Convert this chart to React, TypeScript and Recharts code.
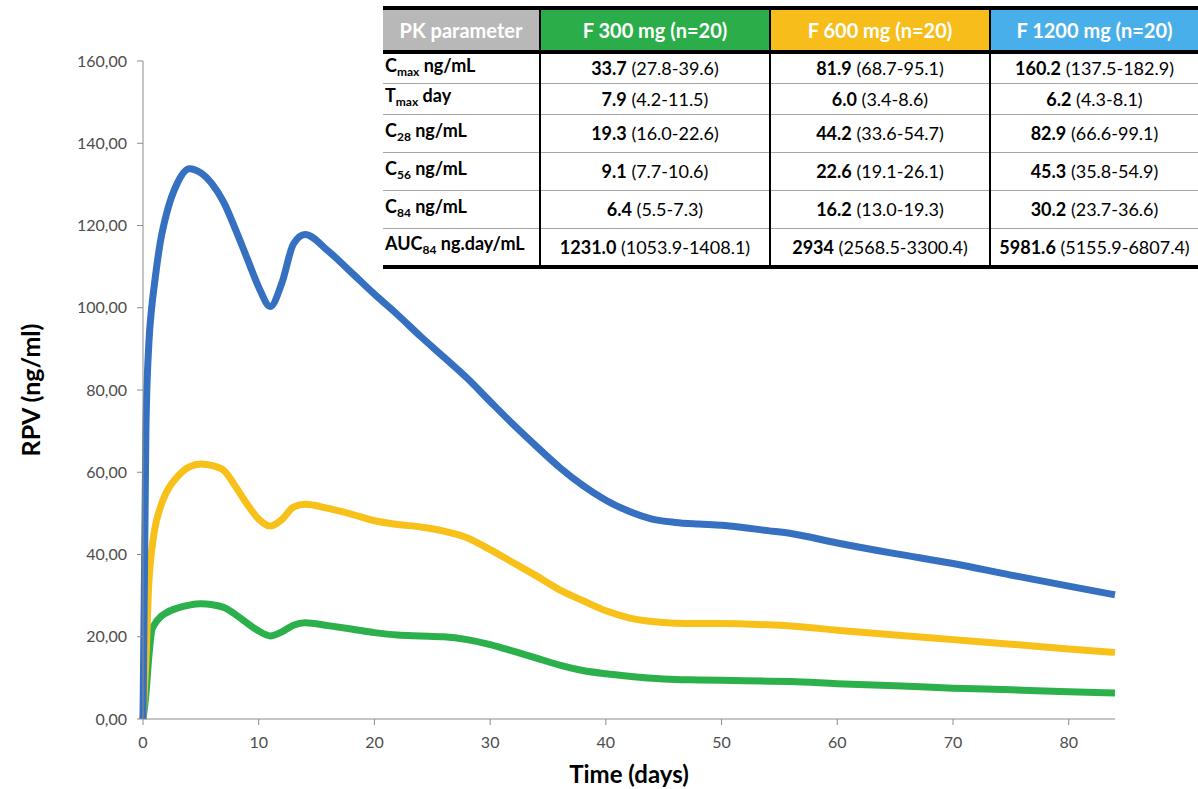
import { LineChart, Line, XAxis, YAxis } from 'recharts'

const days = [0, 0.25, 0.5, 0.75, 1, 1.5, 2, 3, 4, 5, 6, 7, 8, 9, 10, 11, 12, 13, 14, 16, 18, 20, 22, 24, 26, 28, 30, 32, 34, 36, 38, 40, 42, 44, 46, 48, 50, 52, 54, 56, 60, 65, 70, 75, 80, 84]
const f1200 = [0, 70, 91, 100, 106, 116, 122.5, 130.5, 133.8, 132.8, 130, 125.5, 119, 112, 105, 100.3, 106, 115.5, 117.8, 113.8, 108.6, 103.3, 98.3, 93, 88, 82.9, 77.2, 71.6, 66.3, 61.2, 56.8, 53.2, 50.5, 48.6, 47.8, 47.4, 47.1, 46.5, 45.8, 45.1, 42.8, 40.2, 37.8, 35, 32.3, 30.2]
const f600 = [0, 14, 33, 41, 46, 51.5, 55, 59, 61.3, 62, 61.6, 60.4, 56.5, 52.2, 48.6, 46.9, 48.5, 51.5, 52.2, 51.2, 49.8, 48.2, 47.3, 46.7, 45.7, 44.1, 41.2, 38, 34.8, 31.4, 28.8, 26.3, 24.6, 23.7, 23.3, 23.2, 23.2, 23.1, 22.9, 22.6, 21.6, 20.4, 19.3, 18.2, 17, 16.2]
const f300 = [0, 6, 15, 21.5, 23, 24.8, 25.8, 27, 27.7, 28, 27.8, 27.1, 25.4, 23.3, 21.4, 20.2, 21.2, 22.8, 23.4, 22.7, 21.9, 21, 20.4, 20.2, 20, 19.3, 18.1, 16.5, 14.8, 13.1, 11.8, 11, 10.4, 9.9, 9.6, 9.5, 9.4, 9.3, 9.2, 9.1, 8.6, 8.1, 7.5, 7.1, 6.6, 6.3]

const xTicks = [0, 10, 20, 30, 40, 50, 60, 70, 80]
const yTicks = [0, 20, 40, 60, 80, 100, 120, 140, 160]

const headers = ['PK parameter', 'F 300 mg (n=20)', 'F 600 mg (n=20)', 'F 1200 mg (n=20)']
const headerColors = ['#b8b8b8', '#2bae4a', '#f6bd1b', '#49afea']
const paramNames = ['C', 'T', 'C', 'C', 'C', 'AUC']
const paramSubs = ['max', 'max', '28', '56', '84', '84']
const paramUnits = ['ng/mL', 'day', 'ng/mL', 'ng/mL', 'ng/mL', 'ng.day/mL']
const means300 = ['33.7', '7.9', '19.3', '9.1', '6.4', '1231.0']
const ranges300 = ['(27.8-39.6)', '(4.2-11.5)', '(16.0-22.6)', '(7.7-10.6)', '(5.5-7.3)', '(1053.9-1408.1)']
const means600 = ['81.9', '6.0', '44.2', '22.6', '16.2', '2934']
const ranges600 = ['(68.7-95.1)', '(3.4-8.6)', '(33.6-54.7)', '(19.1-26.1)', '(13.0-19.3)', '(2568.5-3300.4)']
const means1200 = ['160.2', '6.2', '82.9', '45.3', '30.2', '5981.6']
const ranges1200 = ['(137.5-182.9)', '(4.3-8.1)', '(66.6-99.1)', '(35.8-54.9)', '(23.7-36.6)', '(5155.9-6807.4)']
const rowHeights = [31, 31, 38, 38, 38, 39]

const data = days.map((d, i) => ({ day: d, f300: f300[i], f600: f600[i], f1200: f1200[i] }))

const FONT = 'Lato, "Open Sans", sans-serif'
const AXIS = '#8c8c8c'
const TICK = { fill: '#4d4d4d', fontSize: 16, fontFamily: FONT }

const fmt = (v: number) => v.toFixed(2).replace('.', ',')

function YTitle(props: any) {
  const { viewBox } = props
  const cx = viewBox.x + 22
  const cy = viewBox.y + viewBox.height / 2
  return (
    <text x={cx} y={cy} transform={`rotate(-90 ${cx} ${cy})`} textAnchor="middle" dominantBaseline="central"
      fontFamily={FONT} fontSize={25} fontWeight={700} fill="#000">RPV (ng/ml)</text>
  )
}

function XTitle(props: any) {
  const { viewBox } = props
  return (
    <text x={viewBox.x + viewBox.width / 2} y={viewBox.y + 54} textAnchor="middle" dominantBaseline="central"
      fontFamily={FONT} fontSize={24} fontWeight={700} fill="#000">Time (days)</text>
  )
}

function PkTable() {
  const cell = (i: number, mean: string, range: string, col: number) => (
    <td key={col} style={{
      borderLeft: '2px solid #000', borderBottom: i === 5 ? '4px solid #000' : '1px solid #a6a6a6',
      textAlign: 'center', padding: 0, whiteSpace: 'nowrap',
    }}>
      <b>{mean}</b> {range}
    </td>
  )
  return (
    <table style={{
      position: 'absolute', left: 383, top: 6, width: 815, borderCollapse: 'collapse', tableLayout: 'fixed',
      fontFamily: FONT, fontSize: 18, color: '#000', background: '#fff',
    }}>
      <colgroup>
        <col style={{ width: 157 }} />
        <col style={{ width: 230 }} />
        <col style={{ width: 220 }} />
        <col style={{ width: 208 }} />
      </colgroup>
      <thead>
        <tr style={{ height: 44 }}>
          {headers.map((h, i) => (
            <th key={h} style={{
              background: headerColors[i], color: '#fff', fontWeight: 700, fontSize: 20,
              borderTop: '4px solid #000', borderBottom: '4px solid #000',
              borderLeft: i === 0 ? 'none' : '2px solid #000', padding: 0, whiteSpace: 'nowrap',
            }}>{h}</th>
          ))}
        </tr>
      </thead>
      <tbody>
        {paramNames.map((p, i) => (
          <tr key={i} style={{ height: rowHeights[i] }}>
            <td style={{
              fontWeight: 700, paddingLeft: 2, whiteSpace: 'nowrap', lineHeight: '18px',
              borderBottom: i === 5 ? '4px solid #000' : '1px solid #a6a6a6',
            }}>
              {p}<span style={{ fontSize: 12, verticalAlign: -4 }}>{paramSubs[i]}</span> {paramUnits[i]}
            </td>
            {cell(i, means300[i], ranges300[i], 1)}
            {cell(i, means600[i], ranges600[i], 2)}
            {cell(i, means1200[i], ranges1200[i], 3)}
          </tr>
        ))}
      </tbody>
    </table>
  )
}

export default function App() {
  return (
    <div style={{ position: 'absolute', left: 0, top: 0, width: 1198, height: 789, background: '#fff' }}>
      <LineChart width={1198} height={789} data={data} margin={{ top: 61, right: 83, left: 8, bottom: 0 }}>
        <XAxis dataKey="day" type="number" domain={[0, 84]} ticks={xTicks} height={70}
          tick={TICK} tickSize={6} tickMargin={12}
          axisLine={{ stroke: AXIS }} tickLine={{ stroke: AXIS }}
          label={{ content: XTitle }} />
        <YAxis type="number" domain={[0, 160]} ticks={yTicks} width={135} tickFormatter={fmt}
          tick={TICK} tickSize={6} tickMargin={10}
          axisLine={{ stroke: AXIS }} tickLine={{ stroke: AXIS }}
          label={{ content: YTitle }} />
        <Line type="monotone" dataKey="f300" stroke="#2bb04c" strokeWidth={7} dot={false} isAnimationActive={false} />
        <Line type="monotone" dataKey="f600" stroke="#f8c11a" strokeWidth={7} dot={false} isAnimationActive={false} />
        <Line type="monotone" dataKey="f1200" stroke="#3670c0" strokeWidth={7} dot={false} isAnimationActive={false} />
      </LineChart>
      <PkTable />
    </div>
  )
}
